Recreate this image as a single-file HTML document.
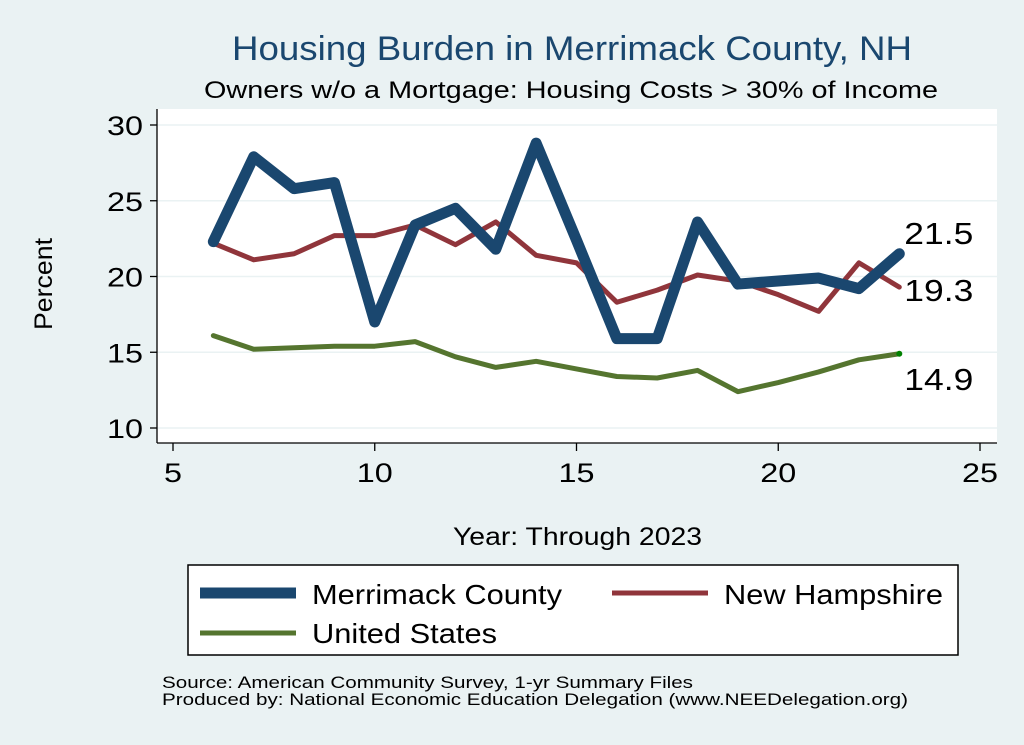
<!DOCTYPE html>
<html><head><meta charset="utf-8"><style>
html,body{margin:0;padding:0;background:#eaf2f3;}
svg{display:block;font-family:"Liberation Sans",Arial,sans-serif;}
</style></head><body>
<svg id="chart" width="1024" height="745" viewBox="0 0 1024 745">
<rect x="0" y="0" width="1024" height="745" fill="#eaf2f3"/>
<text x="232" y="60" font-size="34" fill="#1a476f" textLength="680" lengthAdjust="spacingAndGlyphs">Housing Burden in Merrimack County, NH</text>
<text x="204" y="98" font-size="24" fill="#000" textLength="734" lengthAdjust="spacingAndGlyphs">Owners w/o a Mortgage: Housing Costs &gt; 30% of Income</text>
<rect x="157" y="109" width="840" height="334" fill="#fff"/>
<g id="grid"></g><g id="axes"></g><g id="series"></g><g id="labels"></g>
<text transform="translate(52,284) rotate(-90)" font-size="25" text-anchor="middle" textLength="92" lengthAdjust="spacingAndGlyphs">Percent</text>
<text x="453" y="545" font-size="25" textLength="249" lengthAdjust="spacingAndGlyphs">Year: Through 2023</text>
<g>
<rect x="188" y="565" width="770" height="90" fill="#fff" stroke="#000" stroke-width="1.5"/>
<line x1="200" y1="593" x2="296" y2="593" stroke="#1a476f" stroke-width="11"/>
<text x="312" y="604" font-size="28" textLength="250" lengthAdjust="spacingAndGlyphs">Merrimack County</text>
<line x1="612" y1="593" x2="708" y2="593" stroke="#90353b" stroke-width="5"/>
<text x="724" y="604" font-size="28" textLength="219" lengthAdjust="spacingAndGlyphs">New Hampshire</text>
<line x1="200" y1="633" x2="296" y2="633" stroke="#55752f" stroke-width="5"/>
<text x="312" y="643" font-size="28" textLength="185" lengthAdjust="spacingAndGlyphs">United States</text>
</g>
<text x="162" y="688" font-size="17" textLength="531" lengthAdjust="spacingAndGlyphs">Source: American Community Survey, 1-yr Summary Files</text>
<text x="162" y="705" font-size="17" textLength="746" lengthAdjust="spacingAndGlyphs">Produced by: National Economic Education Delegation (www.NEEDelegation.org)</text>
</svg>
<script>
const years = [6,7,8,9,10,11,12,13,14,15,16,17,18,19,20,21,22,23];
const merrimack = [22.3,27.9,25.8,26.2,17.0,23.4,24.5,21.8,28.8,22.4,15.9,15.9,23.6,19.5,19.7,19.9,19.2,21.5];
const newHampshire = [22.2,21.1,21.5,22.7,22.7,23.4,22.1,23.6,21.4,20.9,18.3,19.1,20.1,19.7,18.8,17.7,20.9,19.3];
const unitedStates = [16.1,15.2,15.3,15.4,15.4,15.7,14.7,14.0,14.4,13.9,13.4,13.3,13.8,12.4,13.0,13.7,14.5,14.9];
const xTicks = [5,10,15,20,25];
const yTicks = [10,15,20,25,30];
const NS='http://www.w3.org/2000/svg';
const X = v => 173 + (v-5)*(980-173)/20;
const Y = v => 428 - (v-10)*(428-125)/20;
function mk(tag, attrs, parent){const e=document.createElementNS(NS,tag);for(const k in attrs)e.setAttribute(k,attrs[k]);parent.appendChild(e);return e;}
const grid=document.getElementById('grid'), axes=document.getElementById('axes'), series=document.getElementById('series'), labels=document.getElementById('labels');
yTicks.forEach(t=>{
  const g=mk('line',{x1:157,x2:997,y1:Y(t),y2:Y(t),stroke:'#eaf2f3','stroke-width':1.5},grid);
  
  
  const tk=mk('line',{x1:150,x2:157,y1:Y(t),y2:Y(t),stroke:'#000','stroke-width':1.3},axes);
  
  
  const s=String(t);
  const tl=mk('text',{x:143-18*s.length,y:Y(t)+10,'font-size':27,textLength:18*s.length,lengthAdjust:'spacingAndGlyphs'},axes);
  tl.textContent=s;
  
  
});
xTicks.forEach(t=>{
  const tk=mk('line',{x1:X(t),x2:X(t),y1:443,y2:451,stroke:'#000','stroke-width':1.3},axes);
  
  
  const s=String(t);
  const w=18*s.length;
  const tl=mk('text',{x:X(t)-w/2,y:482,'font-size':27,textLength:w,lengthAdjust:'spacingAndGlyphs'},axes);
  tl.textContent=s;
  
  
});
const ya=mk('line',{x1:157,x2:157,y1:109,y2:443,stroke:'#000','stroke-width':1.3},axes);


const xa=mk('line',{x1:157,x2:997,y1:443,y2:443,stroke:'#000','stroke-width':1.3},axes);


function line(vals,color,w,name){
  const p=mk('polyline',{points:years.map((y,i)=>X(y)+','+Y(vals[i])).join(' '),fill:'none',stroke:color,'stroke-width':w,'stroke-linejoin':'round','stroke-linecap':'round'},series);
  
  
}
line(unitedStates,'#55752f',5,'line-united-states');
line(newHampshire,'#90353b',5,'line-new-hampshire');
line(merrimack,'#1a476f',11,'line-merrimack-county');
const last=years.length-1;
const dot=mk('circle',{cx:X(years[last]),cy:Y(unitedStates[last]),r:3,fill:'#008000'},series);


function lab(v,dy,name){
  const t=mk('text',{x:X(years[last])+5,y:Y(v)+dy,'font-size':31,textLength:69,lengthAdjust:'spacingAndGlyphs'},labels);
  t.textContent=v.toFixed(1);
  
  
}
lab(merrimack[last],-10,'label-merrimack-end');
lab(newHampshire[last],14,'label-nh-end');
lab(unitedStates[last],36,'label-us-end');
</script>
</body></html>
